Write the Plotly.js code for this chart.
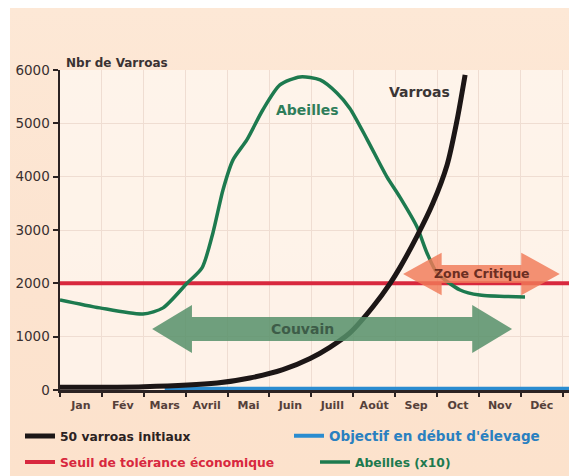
<!DOCTYPE html>
<html>
<head>
<meta charset="utf-8">
<script src="https://cdn.plot.ly/plotly-3.0.1.min.js"></script>
<style>
  html, body { margin: 0; padding: 0; background: #ffffff; width: 569px; height: 476px; overflow: hidden; }
  #chart { position: absolute; left: 10px; top: 8px; width: 559px; height: 468px;
    background: linear-gradient(to bottom, #fde8d6 0%, #fce3cf 60%, #fce2cc 100%); }
</style>
</head>
<body>
<div id="chart"></div>
<script>
// ---- Data (x in months: 0 = start of January, 12 = end of December) ----
const months = ['Jan', 'Fév', 'Mars', 'Avril', 'Mai', 'Juin', 'Juill', 'Août', 'Sep', 'Oct', 'Nov', 'Déc'];
const monthCenters = [0.5, 1.5, 2.5, 3.5, 4.5, 5.5, 6.5, 7.5, 8.5, 9.5, 10.5, 11.5];

const varroaX = [0, 2, 3.75, 4.53, 5.32, 5.97, 6.44, 6.92, 7.47, 7.88, 8.11, 8.52, 8.9, 9.24, 9.47, 9.67];
const varroaY = [50, 60, 130, 225, 380, 590, 800, 1070, 1560, 2000, 2290, 2880, 3500, 4220, 5030, 5910];

const objectifX = [2.5, 12.15];
const objectifY = [25, 25];

const seuilX = [0, 12.15];
const seuilY = [2000, 2000];

const abeillesX = [0, 0.95, 1.98, 2.46, 3.03, 3.39, 3.65, 3.89, 4.13, 4.46, 4.84, 5.25, 5.73, 6.21, 6.61, 6.92, 7.33, 7.80, 8.11, 8.52, 8.76, 9.0, 9.55, 10.02, 11.1];
const abeillesY = [1690, 1540, 1425, 1540, 2000, 2290, 2945, 3750, 4315, 4690, 5250, 5720, 5870, 5815, 5570, 5280, 4700, 4000, 3620, 3060, 2570, 2195, 1875, 1780, 1745];

// Double arrows (month positions and level)
const couvainArrow = { from: 2.2, to: 10.79, level: 1144 };
const zoneArrow = { from: 8.19, to: 11.93, level: 2175 };

// ---- Helpers ----
function doubleArrow(a, headLen, shaftHalf, headHalf) {
  const x0 = a.from, x1 = a.to, y = a.level;
  const p = [
    [x0, y],
    [x0 + headLen, y + headHalf],
    [x0 + headLen, y + shaftHalf],
    [x1 - headLen, y + shaftHalf],
    [x1 - headLen, y + headHalf],
    [x1, y],
    [x1 - headLen, y - headHalf],
    [x1 - headLen, y - shaftHalf],
    [x0 + headLen, y - shaftHalf],
    [x0 + headLen, y - headHalf]
  ];
  return 'M' + p.map(q => q[0] + ',' + q[1]).join(' L') + ' Z';
}

const FONT = 'DejaVu Sans, Verdana, sans-serif';
const DARK = '#2b2222';

const traces = [
  { x: seuilX, y: seuilY, mode: 'lines', line: { color: '#d8283e', width: 4 },
    name: '<span style="color:#d8283e">Seuil de tolérance économique</span>', legend: 'legend3' },
  { x: objectifX, y: objectifY, mode: 'lines', line: { color: '#2a8cd0', width: 4 },
    name: '<span style="color:#2a80c0">Objectif en début d\'élevage</span>', legend: 'legend2' },
  { x: abeillesX, y: abeillesY, mode: 'lines', line: { color: '#1d7a4f', width: 3.5, shape: 'spline', smoothing: 0.7 },
    name: '<span style="color:#1d7a4f">Abeilles (x10)</span>', legend: 'legend4' },
  { x: varroaX, y: varroaY, mode: 'lines', line: { color: '#1c1616', width: 5, shape: 'spline', smoothing: 0.8 },
    name: '<span style="color:#2b2222">50 varroas initiaux</span>', legend: 'legend' }
];

function legendAt(x, y, size) {
  return {
    orientation: 'h', xref: 'container', yref: 'container', x: x, xanchor: 'left', y: y, yanchor: 'middle',
    bgcolor: 'rgba(0,0,0,0)', borderwidth: 0, itemwidth: 30,
    font: { family: FONT, size: size, weight: 'bold' }
  };
}

const layout = {
  width: 559, height: 468,
  margin: { l: 50, r: 0, t: 62, b: 86 },
  paper_bgcolor: 'rgba(0,0,0,0)',
  plot_bgcolor: 'rgba(255,250,246,0.65)',
  font: { family: FONT, color: DARK },
  showlegend: true,
  xaxis: {
    range: [0, 12.15], tickmode: 'array', tickvals: monthCenters, ticktext: months,
    ticks: '', showgrid: false, zeroline: false, ticklabelstandoff: 3,
    showline: true, linecolor: DARK, linewidth: 2.5,
    tickfont: { family: FONT, size: 11, color: '#55403a', weight: 'bold' },
    minor: { tickmode: 'linear', tick0: 0, dtick: 1, ticks: 'outside', ticklen: 4, tickwidth: 2,
             tickcolor: DARK, showgrid: true, gridcolor: '#efddd2', gridwidth: 1 },
    fixedrange: true
  },
  yaxis: {
    range: [0, 6000], tickmode: 'linear', tick0: 0, dtick: 1000,
    ticks: 'outside', ticklen: 5, tickwidth: 2, tickcolor: DARK,
    showgrid: true, gridcolor: '#efddd2', gridwidth: 1, zeroline: false,
    showline: true, linecolor: DARK, linewidth: 2.5,
    tickfont: { family: FONT, size: 13.5, color: '#3a3030' },
    fixedrange: true
  },
  legend: legendAt(10 / 559, 1 - 428 / 468, 12.3),
  legend2: legendAt(279 / 559, 1 - 428 / 468, 13.5),
  legend3: legendAt(10 / 559, 1 - 454 / 468, 12.3),
  legend4: legendAt(305 / 559, 1 - 454 / 468, 12.3),
  shapes: [
    { type: 'path', xref: 'x', yref: 'y', path: doubleArrow(couvainArrow, 0.95, 225, 450),
      fillcolor: 'rgba(86,144,106,0.85)', line: { width: 0 }, layer: 'above' },
    { type: 'path', xref: 'x', yref: 'y', path: doubleArrow(zoneArrow, 0.92, 170, 400),
      fillcolor: 'rgba(240,122,88,0.82)', line: { width: 0 }, layer: 'above' }
  ],
  annotations: [
    { text: 'Nbr de Varroas', xref: 'paper', yref: 'paper', x: 0, y: 1, xanchor: 'left', yanchor: 'middle',
      xshift: 4, yshift: 7, showarrow: false, font: { family: FONT, size: 12, color: '#3a3232', weight: 'bold' } },
    { text: 'Abeilles', xref: 'x', yref: 'y', x: 5.9, y: 5250, showarrow: false,
      font: { family: FONT, size: 14, color: '#2f7d5a', weight: 'bold' } },
    { text: 'Varroas', xref: 'x', yref: 'y', x: 8.59, y: 5590, showarrow: false,
      font: { family: FONT, size: 14, color: '#3b3535', weight: 'bold' } },
    { text: 'Couvain', xref: 'x', yref: 'y', x: 5.78, y: 1144, showarrow: false,
      font: { family: FONT, size: 14, color: '#3d5c48', weight: 'bold' } },
    { text: 'Zone Critique', xref: 'x', yref: 'y', x: 10.07, y: 2190, showarrow: false,
      font: { family: FONT, size: 12.5, color: '#6b2e22', weight: 'bold' } }
  ]
};

Plotly.newPlot('chart', traces, layout, { displayModeBar: false, staticPlot: true });
</script>
</body>
</html>
